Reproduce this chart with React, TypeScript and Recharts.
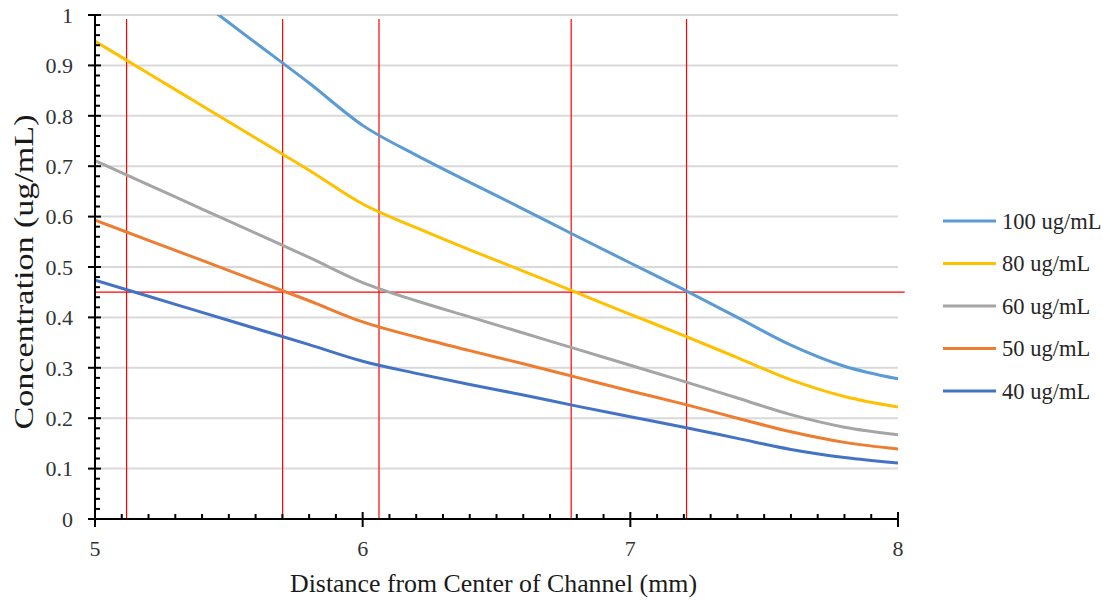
import React from "react";
import { LineChart, Line, XAxis, YAxis, CartesianGrid, ReferenceLine } from "recharts";

const distance = [5.0, 5.2, 5.4, 5.6, 5.8, 6.0, 6.2, 6.4, 6.6, 6.8, 7.0, 7.2, 7.4, 7.6, 7.8, 8.0];
const c100 = [1.185, 1.105, 1.025, 0.945, 0.865, 0.781, 0.722, 0.668, 0.615, 0.561, 0.508, 0.455, 0.4, 0.345, 0.303, 0.278];
const c80 = [0.948, 0.884, 0.82, 0.756, 0.692, 0.625, 0.578, 0.534, 0.492, 0.449, 0.406, 0.364, 0.32, 0.276, 0.243, 0.222];
const c60 = [0.711, 0.663, 0.615, 0.567, 0.519, 0.469, 0.433, 0.401, 0.369, 0.337, 0.305, 0.273, 0.24, 0.207, 0.182, 0.167];
const c50 = [0.593, 0.553, 0.513, 0.473, 0.433, 0.391, 0.361, 0.334, 0.308, 0.281, 0.254, 0.228, 0.2, 0.173, 0.152, 0.139];
const c40 = [0.474, 0.442, 0.41, 0.378, 0.346, 0.313, 0.289, 0.267, 0.246, 0.224, 0.203, 0.182, 0.16, 0.138, 0.122, 0.111];

const seriesNames = ["100 ug/mL", "80 ug/mL", "60 ug/mL", "50 ug/mL", "40 ug/mL"];
const seriesKeys = ["c100", "c80", "c60", "c50", "c40"];
const seriesColors = ["#5B9BD5", "#FFC000", "#A5A5A5", "#ED7D31", "#4472C4"];

const yMajorTicks = [0, 0.1, 0.2, 0.3, 0.4, 0.5, 0.6, 0.7, 0.8, 0.9, 1];
const xAllTicks = Array.from({ length: 31 }, (_, i) => Math.round((5 + i * 0.1) * 10) / 10);
const yAllTicks = Array.from({ length: 51 }, (_, i) => Math.round(i * 0.02 * 100) / 100);

const redVerticals = [5.118, 5.701, 6.061, 6.779, 7.21];
const redHorizontal = 0.45;

const data = distance.map((x, i) => ({
  x,
  c100: c100[i],
  c80: c80[i],
  c60: c60[i],
  c50: c50[i],
  c40: c40[i],
}));

const FONT = "Liberation Serif";

const isMajor = (v: number, step: number) => Math.abs(v / step - Math.round(v / step)) < 1e-6;

const YTick = (props: any) => {
  const { x, y, payload } = props;
  const v = payload.value as number;
  const major = isMajor(v, 0.1);
  const label = v === 0 ? "0" : v === 1 ? "1" : v.toFixed(1);
  return (
    <g>
      {major ? (
        <line x1={x - 7} x2={x + 6} y1={y} y2={y} stroke="#000" strokeWidth={2} />
      ) : (
        <line x1={x} x2={x + 5} y1={y} y2={y} stroke="#000" strokeWidth={2} />
      )}
      {major && (
        <text x={x - 22} y={y} dy="0.35em" textAnchor="end" fontFamily={FONT} fontSize={22} style={{ fontFamily: FONT, fontSize: 22 }} fill="#333333">
          {label}
        </text>
      )}
    </g>
  );
};

const XTick = (props: any) => {
  const { x, y, payload } = props;
  const v = payload.value as number;
  const major = isMajor(v, 1);
  return (
    <g>
      {major ? (
        <line x1={x} x2={x} y1={y - 7} y2={y + 8} stroke="#000" strokeWidth={2} />
      ) : (
        <line x1={x} x2={x} y1={y - 5} y2={y} stroke="#000" strokeWidth={2} />
      )}
      {major && (
        <text x={x} y={y + 37} textAnchor="middle" fontFamily={FONT} fontSize={22} style={{ fontFamily: FONT, fontSize: 22 }} fill="#333333">
          {String(v)}
        </text>
      )}
    </g>
  );
};

const XTitle = (props: any) => {
  const { viewBox } = props;
  const cx = viewBox.x + viewBox.width / 2 - 3;
  return (
    <text x={cx} y={592} textAnchor="middle" fontFamily={FONT} style={{ fontFamily: FONT, fontSize: 26 }} fill="#1a1a1a" textLength={407} lengthAdjust="spacingAndGlyphs">
      Distance from Center of Channel (mm)
    </text>
  );
};

const YTitle = (props: any) => {
  const { viewBox } = props;
  const cy = viewBox.y + viewBox.height / 2 + 5;
  return (
    <text
      x={0}
      y={0}
      transform={`translate(33, ${cy}) rotate(-90)`}
      textAnchor="middle"
      fontFamily={FONT}
      style={{ fontFamily: FONT, fontSize: 27 }}
      fill="#1a1a1a"
      textLength={315}
      lengthAdjust="spacingAndGlyphs"
    >
      Concentration (ug/mL)
    </text>
  );
};

const ChartLegend = () => (
  <svg width={170} height={220} style={{ position: "absolute", left: 940, top: 205 }}>
    {seriesNames.map((name, i) => {
      const cy = 16 + i * 42.5;
      return (
        <g key={name}>
          <line x1={3} x2={56} y1={cy} y2={cy} stroke={seriesColors[i]} strokeWidth={3} />
          <text x={62} y={cy} dy="0.35em" style={{ fontFamily: FONT, fontSize: 22.5 }} fill="#262626">
            {name}
          </text>
        </g>
      );
    })}
  </svg>
);

export default function App() {
  return (
    <div style={{ position: "absolute", left: 0, top: 0, width: 1110, height: 603, background: "#fff" }}>
      <LineChart width={1110} height={603} data={data} margin={{ top: 15, right: 212, bottom: 0, left: 0 }}>
        <CartesianGrid vertical={false} horizontalValues={yMajorTicks.filter((v) => v > 0)} stroke="#d9d9d9" strokeWidth={2} />
        <XAxis
          type="number"
          dataKey="x"
          domain={[5, 8]}
          ticks={xAllTicks}
          interval={0}
          height={84}
          tickSize={0}
          tickMargin={0}
          tickLine={false}
          tick={<XTick />}
          axisLine={{ stroke: "#000", strokeWidth: 2 }}
          allowDataOverflow
          label={<XTitle />}
        />
        <YAxis
          type="number"
          domain={[0, 1]}
          ticks={yAllTicks}
          interval={0}
          width={95}
          tickSize={0}
          tickMargin={0}
          tickLine={false}
          tick={<YTick />}
          axisLine={{ stroke: "#000", strokeWidth: 2 }}
          allowDataOverflow
          label={<YTitle />}
        />
        {redVerticals.map((v) => (
          <ReferenceLine
            key={v}
            segment={[
              { x: v, y: 0 },
              { x: v, y: 0.992 },
            ]}
            stroke="#FF0000"
            strokeWidth={1.2}
            ifOverflow="visible"
          />
        ))}
        <ReferenceLine
          segment={[
            { x: 5, y: redHorizontal },
            { x: 8.025, y: redHorizontal },
          ]}
          stroke="#FF0000"
          strokeWidth={1.2}
          ifOverflow="visible"
        />
        {seriesKeys.map((k, i) => (
          <Line
            key={k}
            type="monotone"
            dataKey={k}
            name={seriesNames[i]}
            stroke={seriesColors[i]}
            strokeWidth={3}
            dot={false}
            activeDot={false}
            isAnimationActive={false}
          />
        ))}
      </LineChart>
      <ChartLegend />
    </div>
  );
}
